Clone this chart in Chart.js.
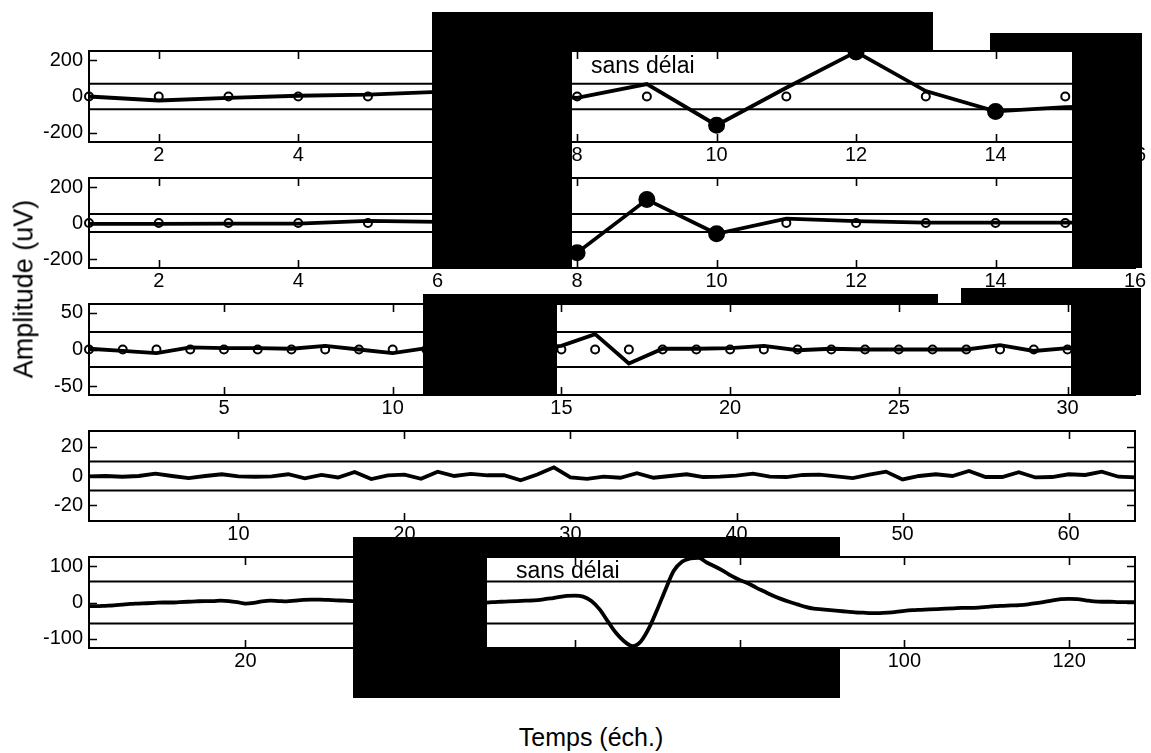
<!DOCTYPE html>
<html>
<head>
<meta charset="utf-8">
<script src="https://cdn.jsdelivr.net/npm/chart.js@4.4.1/dist/chart.umd.min.js"></script>
<style>
    html, body { margin: 0; padding: 0; background: #fff; }
    #stage { position: relative; width: 1151px; height: 753px; overflow: hidden; font-family: "Liberation Sans", Arial, sans-serif; }
    canvas.panel { position: absolute; left: 0; }
    .mask { position: absolute; background: #000; }
    .txt { position: absolute; color: #000; white-space: nowrap; line-height: 1; }
</style>
</head>
<body>
<div id="stage">
    <canvas class="panel" id="p1"></canvas>
    <canvas class="panel" id="p2"></canvas>
    <canvas class="panel" id="p3"></canvas>
    <canvas class="panel" id="p4"></canvas>
    <canvas class="panel" id="p5"></canvas>
</div>
<script>
// ---- données (amplitude en uV, temps en échantillons) ----

// niveau 1 : 16 échantillons
const p1Values = [0, -22, -8, 4, 10, 25, 15, -8, 68, -158, 48, 245, 30, -82, -58, -50];
const p1Thresh = [70, -70];
const p1XTicks = [2, 4, 6, 8, 10, 12, 14, 16];
const p1YTicks = [-200, -100, 0, 100, 200];
const p1YLabels = [-200, 0, 200];

// niveau 2 : 16 échantillons
const p2Values = [-5, -5, -4, -4, 12, 6, -10, -165, 130, -60, 24, 10, 2, 2, 2, 2];
const p2Thresh = [50, -50];
const p2XTicks = [2, 4, 6, 8, 10, 12, 14, 16];
const p2YTicks = [-200, -100, 0, 100, 200];
const p2YLabels = [-200, 0, 200];

// niveau 3 : 32 échantillons
const p3Values = [1, -2, -5, 3, 2, 2, 1, 5, 0, -5, 2, 1, -1, 2, 5, 21,
                  -19, 1, 1, 2, 5, -1, 1, 0, 0, 0, 0, 6, -2, 2, 1, 0];
const p3Thresh = [24, -24];
const p3XTicks = [5, 10, 15, 20, 25, 30];
const p3YTicks = [-50, 0, 50];
const p3YLabels = [-50, 0, 50];

// niveau 4 : 64 échantillons
const p4Values = [-0.2, 0, -0.5, 0, 1.6, 0, -1.4, 0, 1.2, -0.2, -0.5, -0.3, 1.2, -1.6, 0.7, -1,
                  2.8, -2.1, 0.5, 1, -1.9, 3, 0, 1.4, 0.5, 0.5, -3, 1, 6, -1, -2, -0.5,
                  -1.2, 1.9, -1.2, 0, 1.2, -0.7, -0.5, 0.2, 1.6, -0.5, -0.7, 0.7, 0.9, -0.2, -1.4, 0.9,
                  3, -2.4, 0, 1.2, 0, 3.5, -0.7, -0.7, 2.6, -1, -0.7, 1.2, 0.7, 3, -0.5, -1];
const p4Thresh = [10, -10];
const p4XTicks = [10, 20, 30, 40, 50, 60];
const p4YTicks = [-20, 0, 20];
const p4YLabels = [-20, 0, 20];

// signal reconstruit : 128 échantillons
const p5Values = [-10, -10, -9, -8, -6, -4, -3, -2, -1, 0, 0, 1, 2, 3, 4, 4,
                  5, 4, 1, -3, -1, 3, 5, 4, 3, 5, 7, 8, 8, 7, 6, 5,
                  4, 3, 3, 2, 2, 1, 1, 0, 0, -1, -1, -1, -2, -2, -1, -1,
                  -1, 1, 2, 3, 4, 5, 6, 8, 11, 15, 18, 19, 16, 4, -19, -52,
                  -84, -107, -120, -107, -70, -19, 36, 87, 112, 121, 123, 110, 99, 87, 73, 62,
                  53, 41, 30, 19, 10, 2, -5, -12, -17, -19, -21, -23, -25, -27, -28, -29,
                  -29, -28, -26, -23, -21, -20, -19, -18, -17, -16, -15, -15, -14, -12, -10, -9,
                  -8, -7, -5, -2, 2, 6, 9, 10, 9, 6, 3, 2, 2, 1, 1, 1];
const p5Thresh = [58, -58];
const p5XTicks = [20, 40, 60, 80, 100, 120];
const p5YTicks = [-100, -50, 0, 50, 100];
const p5YLabels = [-100, 0, 100];

// ---- mise en page ----
const FONT = '"Liberation Sans", Arial, sans-serif';
const PLOT_LEFT = 89;
const PLOT_RIGHT = 1135;
const PAD_TOP = 12;
const AXIS_H = 32;

// cadre + graduations vers l'intérieur sur les 4 côtés (style matlab)
const boxFrame = {
    id: 'boxFrame',
    afterDraw(chart) {
        const { ctx, chartArea: a, scales: { x, y } } = chart;
        const len = 8;
        ctx.save();
        ctx.strokeStyle = '#000';
        ctx.lineWidth = 1.6;
        ctx.beginPath();
        x.ticks.forEach(t => {
            const px = Math.round(x.getPixelForValue(t.value)) + 0.5;
            ctx.moveTo(px, a.bottom); ctx.lineTo(px, a.bottom - len);
            ctx.moveTo(px, a.top); ctx.lineTo(px, a.top + len);
        });
        y.ticks.forEach(t => {
            const py = Math.round(y.getPixelForValue(t.value)) + 0.5;
            ctx.moveTo(a.left, py); ctx.lineTo(a.left + len, py);
            ctx.moveTo(a.right, py); ctx.lineTo(a.right - len, py);
        });
        ctx.stroke();
        ctx.lineWidth = 2;
        ctx.strokeRect(a.left, a.top, a.right - a.left, a.bottom - a.top);
        ctx.restore();
    }
};

function drawPanel(opt) {
    const canvas = document.getElementById(opt.id);
    canvas.width = 1151;
    canvas.height = PAD_TOP + (opt.bottom - opt.top) + AXIS_H;
    canvas.style.top = (opt.top - PAD_TOP) + 'px';

    const xMin = 1;
    const xMax = opt.values.length;
    const limit = opt.thresh[0];

    const datasets = [{
        data: opt.values.map((v, i) => ({ x: i + 1, y: v })),
        borderColor: '#000',
        borderWidth: 3.8,
        pointRadius: 0,
        tension: opt.smooth ? 0.4 : 0,
        cubicInterpolationMode: opt.smooth ? 'monotone' : 'default'
    }];

    // coefficients gardés (gros points) ou mis à zéro (petits ronds)
    if (opt.markers) {
        datasets.push({
            data: opt.values.map((v, i) => ({
                x: i + 1,
                y: Math.abs(v) > limit ? v : 0,
                kept: Math.abs(v) > limit
            })),
            showLine: false,
            clip: false,
            pointRadius: c => (c.raw && c.raw.kept ? 7.5 : 4),
            pointBackgroundColor: c => (c.raw && c.raw.kept ? '#000' : 'rgba(0,0,0,0)'),
            pointBorderColor: '#000',
            pointBorderWidth: 2
        });
    }

    // seuils
    opt.thresh.forEach(t => {
        datasets.push({
            data: [{ x: xMin, y: t }, { x: xMax, y: t }],
            borderColor: '#000',
            borderWidth: 2,
            pointRadius: 0
        });
    });

    const tickFont = { family: FONT, size: 20 };

    return new Chart(canvas.getContext('2d'), {
        type: 'line',
        data: { datasets },
        options: {
            responsive: false,
            animation: false,
            devicePixelRatio: 1,
            layout: { padding: { left: 0, right: 1151 - PLOT_RIGHT, top: PAD_TOP, bottom: 0 } },
            plugins: { legend: { display: false }, tooltip: { enabled: false } },
            scales: {
                x: {
                    type: 'linear',
                    min: xMin,
                    max: xMax,
                    grid: { display: false, drawTicks: false },
                    border: { display: false },
                    afterBuildTicks: s => { s.ticks = opt.xTicks.map(v => ({ value: v })); },
                    afterFit: s => { s.height = AXIS_H; s.paddingLeft = 0; s.paddingRight = 0; },
                    ticks: {
                        autoSkip: false, maxRotation: 0, padding: 1,
                        color: '#000', font: tickFont,
                        callback: v => String(v)
                    }
                },
                y: {
                    min: opt.yMin,
                    max: opt.yMax,
                    grid: { display: false, drawTicks: false },
                    border: { display: false },
                    afterBuildTicks: s => { s.ticks = opt.yTicks.map(v => ({ value: v })); },
                    afterFit: s => { s.width = PLOT_LEFT; s.paddingTop = 0; s.paddingBottom = 0; },
                    ticks: {
                        padding: 6, color: '#000', font: tickFont,
                        callback: v => (opt.yLabels.includes(v) ? String(v) : '')
                    }
                }
            }
        },
        plugins: [boxFrame]
    });
}

drawPanel({ id: 'p1', top: 51, bottom: 142, yMin: -250, yMax: 250, values: p1Values, thresh: p1Thresh,
            xTicks: p1XTicks, yTicks: p1YTicks, yLabels: p1YLabels, markers: true });
drawPanel({ id: 'p2', top: 178, bottom: 268, yMin: -250, yMax: 250, values: p2Values, thresh: p2Thresh,
            xTicks: p2XTicks, yTicks: p2YTicks, yLabels: p2YLabels, markers: true });
drawPanel({ id: 'p3', top: 304, bottom: 395, yMin: -62, yMax: 62, values: p3Values, thresh: p3Thresh,
            xTicks: p3XTicks, yTicks: p3YTicks, yLabels: p3YLabels, markers: true });
drawPanel({ id: 'p4', top: 431, bottom: 521, yMin: -31, yMax: 31, values: p4Values, thresh: p4Thresh,
            xTicks: p4XTicks, yTicks: p4YTicks, yLabels: p4YLabels, markers: false });
drawPanel({ id: 'p5', top: 557, bottom: 648, yMin: -125, yMax: 125, values: p5Values, thresh: p5Thresh,
            xTicks: p5XTicks, yTicks: p5YTicks, yLabels: p5YLabels, markers: false, smooth: true });

// ---- caches noirs et textes ----
const stage = document.getElementById('stage');
const masks = [
    [432, 12, 933, 50], [432, 12, 572, 268], [990, 33, 1142, 50], [1072, 33, 1142, 268],
    [423, 294, 938, 303], [423, 294, 557, 395], [961, 288, 1141, 303], [1071, 288, 1141, 395],
    [353, 537, 840, 557], [353, 537, 487, 698], [487, 648, 840, 698]
];
masks.forEach(([x0, y0, x1, y1]) => {
    const d = document.createElement('div');
    d.className = 'mask';
    d.style.left = x0 + 'px';
    d.style.top = y0 + 'px';
    d.style.width = (x1 - x0) + 'px';
    d.style.height = (y1 - y0) + 'px';
    stage.appendChild(d);
});

function addText(text, left, top, size, transform) {
    const d = document.createElement('div');
    d.className = 'txt';
    d.textContent = text;
    d.style.fontSize = size + 'px';
    d.style.left = left + 'px';
    d.style.top = top + 'px';
    if (transform) d.style.transform = transform;
    stage.appendChild(d);
    return d;
}

addText('sans délai', 591, 54, 23);
addText('sans délai', 516, 559, 23);
addText('Amplitude (uV)', 24, 289, 27, 'translate(-50%, -50%) rotate(-90deg)');
addText('Temps (éch.)', 591, 737, 25, 'translate(-50%, -50%)');
</script>
</body>
</html>
